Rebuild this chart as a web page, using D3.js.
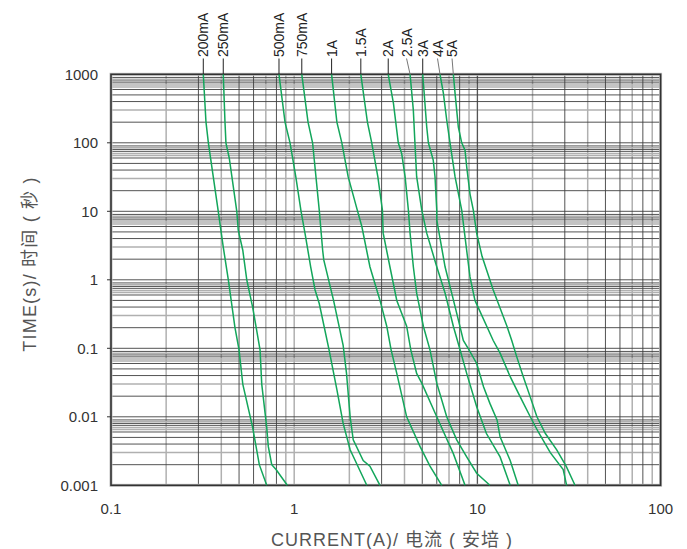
<!DOCTYPE html>
<html><head><meta charset="utf-8">
<script src="https://cdn.jsdelivr.net/npm/d3@7/dist/d3.min.js"></script>
<style>body{margin:0;background:#fff}svg{display:block}</style>
</head><body><svg id="c" width="687" height="549"></svg>
<script>
// ---- data ----
const ratings = ["200mA","250mA","500mA","750mA","1A","1.5A","2A","2.5A","3A","4A","5A"];
const c200mA = [[0.319,1000],[0.33,200],[0.34,100],[0.385,10],[0.41,3],[0.437,1],[0.475,0.2],[0.5,0.095],[0.524,0.03],[0.593,0.007],[0.645,0.002],[0.708,0.001]];
const c250mA = [[0.41,1000],[0.419,200],[0.424,100],[0.442,60],[0.486,10],[0.495,5.3],[0.524,2.7],[0.551,1],[0.593,0.4],[0.651,0.095],[0.665,0.03],[0.708,0.007],[0.722,0.0037],[0.754,0.002],[0.796,0.0017],[0.917,0.001]];
const c500mA = [[0.826,1000],[0.891,200],[0.949,100],[1.02,32],[1.09,10],[1.145,4.8],[1.23,1.55],[1.3,0.71],[1.37,0.45],[1.55,0.095],[1.71,0.025],[1.85,0.008],[2.02,0.0033],[2.49,0.001]];
const c750mA = [[1.1,1000],[1.19,200],[1.26,100],[1.37,10.4],[1.43,2.7],[1.45,1.95],[1.64,0.5],[1.85,0.11],[1.93,0.043],[2.02,0.01],[2.1,0.0046],[2.38,0.0023],[2.59,0.0019],[2.94,0.001]];
const c1A = [[1.6,1000],[1.71,200],[1.82,100],[1.97,32],[2.21,10.4],[2.34,6],[2.59,1.55],[2.94,0.5],[3.2,0.21],[3.38,0.095],[3.63,0.043],[4.11,0.01],[4.86,0.0037],[5.51,0.0019],[6.39,0.001]];
const c1_5A = [[2.31,1000],[2.51,200],[2.65,100],[2.86,32],[3.03,10.4],[3.06,4.8],[3.33,1.55],[3.63,0.5],[4.11,0.21],[4.33,0.095],[4.66,0.043],[4.97,0.031],[6.0,0.01],[7.39,0.0029],[8.56,0.001]];
const c2A = [[3.26,1000],[3.48,380],[3.7,100],[3.86,70],[4.03,32],[4.2,10.4],[4.29,4.8],[4.47,1.55],[4.66,0.64],[5.07,0.21],[5.51,0.095],[6.0,0.031],[6.8,0.01],[7.71,0.0046],[8.74,0.0026],[9.91,0.0015],[11.7,0.001]];
const c2_5A = [[4.29,1000],[4.47,300],[4.56,100],[4.66,32],[4.97,10.4],[5.29,4.8],[6.0,1.55],[6.66,0.64],[7.39,0.21],[8.04,0.095],[8.74,0.043],[9.91,0.014],[11.2,0.0057],[13.3,0.0026],[15.1,0.001]];
const c3A = [[5.03,1000],[5.29,170],[5.4,100],[5.74,56],[5.87,32],[6.0,10.4],[6.0,7.5],[6.66,1.55],[7.24,0.64],[7.87,0.26],[8.38,0.13],[9.0,0.095],[9.91,0.06],[10.8,0.0275],[11.7,0.0157],[12.8,0.009],[13.3,0.0051],[15.1,0.0023],[16.7,0.001]];
const c4A = [[6.25,1000],[6.52,530],[6.8,215],[7.09,100],[7.55,32],[8.21,10.4],[9.11,1.1],[9.7,0.5],[12.2,0.13],[13.3,0.085],[15.1,0.0385],[17.1,0.0197],[19.4,0.0101],[21.5,0.006],[25.0,0.003],[29.4,0.0017],[30.7,0.001]];
const c5A = [[7.39,1000],[7.55,530],[7.87,170],[8.21,100],[8.56,78],[8.74,45],[9.11,18],[9.5,10.4],[9.91,4.8],[10.6,2.2],[12.2,0.71],[14.5,0.21],[15.4,0.13],[16.4,0.075],[17.8,0.0385],[19.4,0.0197],[21.1,0.0101],[23.5,0.0057],[27.1,0.0033],[30.5,0.0019],[34.1,0.001]];
const curves = [c200mA,c250mA,c500mA,c750mA,c1A,c1_5A,c2A,c2_5A,c3A,c4A,c5A];

const xTicks = [0.1,1,10,100];
const xTickLabels = ["0.1","1","10","100"];
const yTicks = [0.001,0.01,0.1,1,10,100,1000];
const yTickLabels = ["0.001","0.01","0.1","1","10","100","1000"];
const vGridMult = [2,3,4,5,6,7,8,9,10];
const vGridDark = [false,true,false,true,true,false,true,false,false];
const hGridMult = [2,3,4,5,6,6.5,7,7.5,8,8.5,9];
const hGridDark = [true,false,true,true,true,false,false,true,true,false,true];
const xTitle = "CURRENT(A)/ 电流 ( 安培 )";
const yTitle = "TIME(s)/ 时间 ( 秒 )";

// ---- drawing ----
const svg = d3.select("#c");
const L=111, R=660.6, T=74.3, B=485.3;
const x = d3.scaleLog().domain([0.1,100]).range([L,R]);
const y = d3.scaleLog().domain([0.001,1000]).range([B,T]);
const DARK="#404040", GRAY="#b0b0b0", GREEN="#13a65b";

const decadesX=[0.1,1,10], decadesY=[0.001,0.01,0.1,1,10,100];
const g = svg.append("g");
const vLines=[], hLines=[];
decadesX.forEach(d=>vGridMult.forEach((m,i)=>{ if(d*m<100) vLines.push({v:d*m,dark:vGridDark[i]}); }));
vLines.push({v:10,dark:true});
decadesY.forEach(d=>hGridMult.forEach((m,i)=>hLines.push({v:d*m,dark:hGridDark[i]})));
[0.01,0.1,1,10,100].forEach(v=>hLines.push({v,dark:true}));
[false,true].forEach(dk=>{
  g.selectAll(null).data(vLines.filter(l=>l.dark===dk)).enter().append("line")
   .attr("x1",d=>x(d.v)).attr("x2",d=>x(d.v)).attr("y1",T).attr("y2",B)
   .attr("stroke",dk?DARK:GRAY).attr("stroke-width",dk?0.9:1.5);
  g.selectAll(null).data(hLines.filter(l=>l.dark===dk)).enter().append("line")
   .attr("y1",d=>y(d.v)).attr("y2",d=>y(d.v)).attr("x1",L).attr("x2",R)
   .attr("stroke",dk?DARK:GRAY).attr("stroke-width",dk?0.9:1.5);
});
// frame
svg.append("rect").attr("x",L).attr("y",T).attr("width",R-L).attr("height",B-T)
  .attr("fill","none").attr("stroke","#c0c0c0").attr("stroke-width",3);
svg.append("rect").attr("x",L).attr("y",T).attr("width",R-L).attr("height",B-T)
  .attr("fill","none").attr("stroke","#333").attr("stroke-width",1.6);
svg.selectAll(null).data(yTicks.slice(1,-1)).enter().append("line")
  .attr("x1",L-4).attr("x2",L).attr("y1",d=>y(d)).attr("y2",d=>y(d)).attr("stroke","#333");

// curves
const line = d3.line().x(d=>x(d[0])).y(d=>y(d[1]));
svg.append("g").selectAll("path").data(curves).enter().append("path")
  .attr("d",line).attr("fill","none").attr("stroke",GREEN).attr("stroke-width",1.5);

// rating labels with leaders
const slant = {"2.5A":-3.5,"4A":-2.5,"5A":-1.3};
const lab = svg.append("g");
ratings.forEach((r,i)=>{
  const xt = x(curves[i][0][0]);
  const xl = xt + (slant[r]||0);
  lab.append("line").attr("x1",xl).attr("y1",58.5).attr("x2",xt).attr("y2",T)
    .attr("stroke",slant[r]!==undefined?"#777":"#222").attr("stroke-width",1);
  lab.append("text").attr("transform",`translate(${xl},57) rotate(-90)`)
    .attr("dy","0.36em").attr("font-family","Liberation Sans, Arial, sans-serif")
    .attr("font-size",14).attr("fill","#222").text(r);
});

// tick labels
const tf = "Liberation Sans, Arial, sans-serif";
svg.selectAll(null).data(yTicks).enter().append("text")
  .attr("x",98).attr("y",d=>y(d)).attr("dy","0.36em").attr("text-anchor","end")
  .attr("font-family",tf).attr("font-size",15).attr("fill","#333")
  .text((d,i)=>yTickLabels[i]);
svg.selectAll(null).data(xTicks).enter().append("text")
  .attr("x",d=>x(d)).attr("y",514).attr("text-anchor","middle")
  .attr("font-family",tf).attr("font-size",15).attr("fill","#333")
  .text((d,i)=>xTickLabels[i]);
// titles
svg.append("text").attr("x",392).attr("y",546).attr("text-anchor","middle")
  .attr("font-family","Liberation Sans, 'Noto Sans CJK SC', sans-serif").attr("font-size",18)
  .attr("letter-spacing","1px").attr("fill","#555")
  .text(xTitle);
svg.append("text").attr("transform","translate(36,264) rotate(-90)").attr("text-anchor","middle")
  .attr("font-family","Liberation Sans, 'Noto Sans CJK SC', sans-serif").attr("font-size",18)
  .attr("letter-spacing","1.2px").attr("fill","#555")
  .text(yTitle);
</script></body></html>
